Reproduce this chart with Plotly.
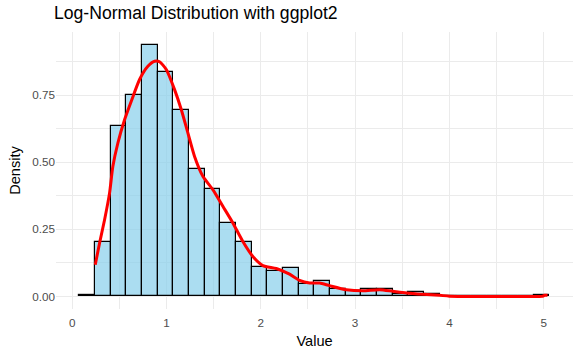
import plotly.graph_objects as go

# Histogram bins (30 bins, width ~0.166) — densities
bin_start = 0.078
bin_width = 0.166
bar_density = [0.006, 0.203, 0.636, 0.751, 0.939, 0.837, 0.695, 0.475, 0.401, 0.274,
               0.203, 0.110, 0.096, 0.106, 0.046, 0.057, 0.028, 0.021, 0.028, 0.028,
               0.010, 0.016, 0.009, 0.0, 0.0, 0.0, 0.0, 0.0, 0.0, 0.004]
bar_centers = [bin_start + bin_width * (i + 0.5) for i in range(len(bar_density))]

# Density curve
dens_x = [0.245, 0.291, 0.344, 0.397, 0.432, 0.485, 0.556, 0.627, 0.715, 0.803, 0.874,
          0.927, 0.998, 1.086, 1.157, 1.227, 1.298, 1.386, 1.492, 1.598, 1.704, 1.810,
          1.916, 2.022, 2.164, 2.305, 2.411, 2.518, 2.624, 2.73, 2.907, 3.083, 3.26,
          3.40, 3.543, 3.72, 3.896, 4.0, 4.32, 4.67, 4.98, 5.01, 5.04]
dens_y = [0.118, 0.199, 0.286, 0.386, 0.485, 0.572, 0.659, 0.728, 0.809, 0.858, 0.877,
          0.875, 0.846, 0.771, 0.697, 0.610, 0.522, 0.448, 0.398, 0.336, 0.274, 0.205,
          0.149, 0.115, 0.104, 0.083, 0.060, 0.050, 0.050, 0.040, 0.025, 0.021, 0.025,
          0.019, 0.013, 0.008, 0.004, 0.001, 0.0, 0.0, 0.0, 0.004, 0.004]

x_ticks = [0, 1, 2, 3, 4, 5]
y_ticks = [0.0, 0.25, 0.5, 0.75]

fig = go.Figure()
fig.add_trace(go.Bar(
    x=bar_centers, y=bar_density, width=bin_width,
    marker=dict(color="rgba(135,206,235,0.7)", line=dict(color="black", width=1.2)),
    hoverinfo="skip",
))
fig.add_trace(go.Scatter(
    x=dens_x, y=dens_y, mode="lines", line=dict(color="red", width=3, shape="spline", smoothing=0.6),
    hoverinfo="skip",
))

grid = "#EBEBEB"
fig.update_layout(
    width=581, height=355,
    margin=dict(l=56, r=8, t=32, b=46),
    paper_bgcolor="white", plot_bgcolor="white",
    showlegend=False, bargap=0,
    font=dict(family="Liberation Sans, Arial, sans-serif", color="black"),
    title=dict(text="Log-Normal Distribution with ggplot2", x=54/581, xref="container", xanchor="left",
               y=1 - 13/355, yref="container", yanchor="middle",
               font=dict(size=17.6, color="black")),
    xaxis=dict(range=[-0.171, 5.31], tickvals=x_ticks, ticktext=[str(v) for v in x_ticks],
               showgrid=True, gridcolor=grid, gridwidth=1, zeroline=False, showline=False,
               ticks="", tickfont=dict(size=11.7, color="#4D4D4D"), automargin=False,
               ticklabelstandoff=5,
               minor=dict(dtick=0.5, tick0=0, showgrid=True, gridcolor=grid, gridwidth=0.8),
               title=dict(text="Value", font=dict(size=14.6, color="black"), standoff=8)),
    yaxis=dict(range=[-0.047, 0.986], tickvals=y_ticks, ticktext=["%.2f" % v for v in y_ticks],
               showgrid=True, gridcolor=grid, gridwidth=1, zeroline=False, showline=False,
               ticks="", tickfont=dict(size=11.7, color="#4D4D4D"), automargin=False,
               minor=dict(dtick=0.125, tick0=0, showgrid=True, gridcolor=grid, gridwidth=0.8),
               title=dict(text="Density", font=dict(size=14.6, color="black"), standoff=8)),
)

fig.write_html("out.html", config={"displayModeBar": False},
               post_script="document.body.style.margin='0';")
